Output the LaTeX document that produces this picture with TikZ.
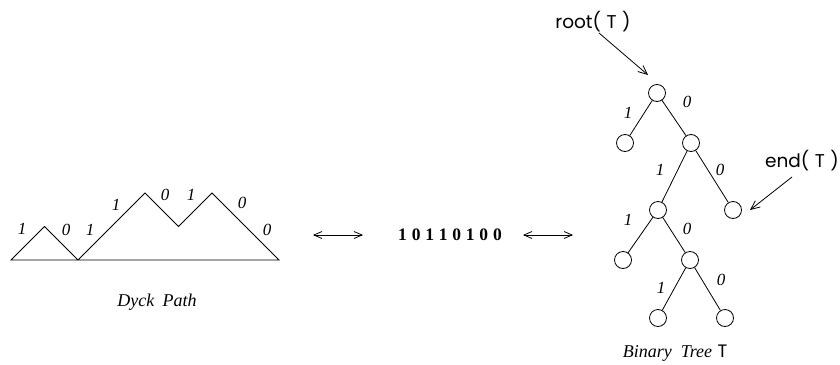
\documentclass[tikz,border=0pt]{standalone}
\usepackage{fontspec}
\setmainfont{Liberation Serif}
\newfontfamily\sansf{Poppins}
\usetikzlibrary{arrows.meta}
\begin{document}
\begin{tikzpicture}[x=1pt,y=-1pt, line width=0.8pt,
  lbl/.style={font=\fontsize{17}{17}\selectfont\itshape, inner sep=0},
  tn/.style={circle, draw, minimum size=17pt, inner sep=0},
  barb/.style={-{Straight Barb[length=9pt,width=8pt]}},
  dbarb/.style={{Straight Barb[length=8pt,width=7pt]}-{Straight Barb[length=8pt,width=7pt]}},
  sanslbl/.style={font=\sansf\fontsize{18.5}{18.5}\selectfont, inner sep=0},
  caplbl/.style={font=\fontsize{18}{18}\selectfont\itshape, inner sep=0}]
\useasboundingbox (0,0) rectangle (840,364);
% Dyck path
\coordinate (p0) at (11,260);
\coordinate (p1) at (44.5,226.5);
\coordinate (p2) at (78,260);
\coordinate (p3) at (145,193);
\coordinate (p4) at (178.5,226.5);
\coordinate (p5) at (212,193);
\coordinate (p6) at (279,260);
\draw (p0)--(p1)--(p2)--(p3)--(p4)--(p5)--(p6)--cycle;
\node[lbl] (d1) at (22,229) {1};
\node[lbl] (d2) at (66,230) {0};
\node[lbl] (d3) at (90,230) {1};
\node[lbl] (d4) at (116,205) {1};
\node[lbl] (d5) at (165,195) {0};
\node[lbl] (d6) at (191,195) {1};
\node[lbl] (d7) at (242,203) {0};
\node[lbl] (d8) at (267,230) {0};
\node[caplbl] (dyck) at (157,302) {Dyck\hspace{0.45em}Path};
% middle
\coordinate (la) at (313,235);
\coordinate (lb) at (363,235);
\coordinate (ra) at (523,235);
\coordinate (rb) at (573,235);
\draw[dbarb] (la) -- (lb);
\draw[dbarb] (ra) -- (rb);
\node[font=\fontsize{17.5}{17.5}\selectfont\bfseries, inner sep=0] (word) at (450,235)
  {1\kern4.8pt 0\kern4.8pt 1\kern4.8pt 1\kern4.8pt 0\kern4.8pt 1\kern4.8pt 0\kern4.8pt 0};
% tree
\node[tn] (r) at (657,93) {};
\node[tn] (a) at (625,143) {};
\node[tn] (b) at (691,143) {};
\node[tn] (c) at (658,210) {};
\node[tn] (d) at (733,210) {};
\node[tn] (e) at (623,260) {};
\node[tn] (f) at (690,260) {};
\node[tn] (g) at (658,318) {};
\node[tn] (h) at (725,318) {};
\draw (r) -- (a);
\draw (r) -- (b);
\draw (b) -- (c);
\draw (b) -- (d);
\draw (c) -- (e);
\draw (c) -- (f);
\draw (f) -- (g);
\draw (f) -- (h);
\node[lbl] (t1) at (628,113) {1};
\node[lbl] (t2) at (687,102) {0};
\node[lbl] (t3) at (660,170) {1};
\node[lbl] (t4) at (720,170) {0};
\node[lbl] (t5) at (628,220) {1};
\node[lbl] (t6) at (687,229) {0};
\node[lbl] (t7) at (661,288) {1};
\node[lbl] (t8) at (721,280) {0};
\node[sanslbl] (root) at (593,22) {root(\hspace{0.3em}T\hspace{0.3em})};
\node[sanslbl] (end) at (802,161) {end(\hspace{0.3em}T\hspace{0.3em})};
\coordinate (rs) at (599,33);
\coordinate (rt) at (648,75);
\coordinate (es) at (792,177);
\coordinate (et) at (750,210);
\draw[barb] (rs) -- (rt);
\draw[barb] (es) -- (et);
\node[caplbl] (bt) at (675,353) {Binary\hspace{0.5em}Tree\hspace{0.3em}{\sansf\upshape T}};
\end{tikzpicture}
\end{document}
